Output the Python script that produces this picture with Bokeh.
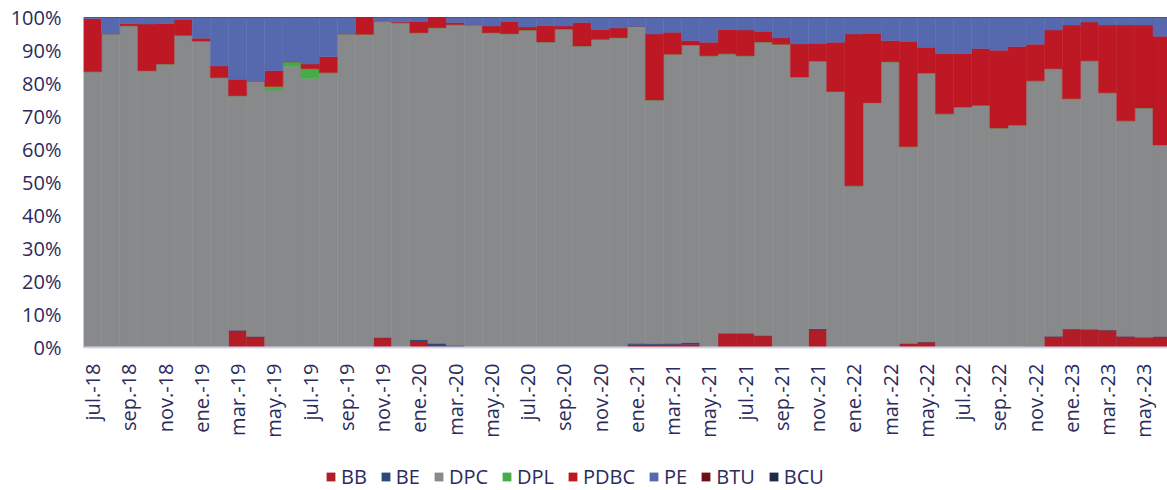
from bokeh.plotting import figure
from bokeh.models import ColumnDataSource, Range1d, FixedTicker, Legend, LegendItem
from bokeh.layouts import column
from bokeh.embed import file_html
from bokeh.resources import INLINE
import math

months = [
    "jul.-18", "ago.-18", "sep.-18", "oct.-18", "nov.-18", "dic.-18",
    "ene.-19", "feb.-19", "mar.-19", "abr.-19", "may.-19", "jun.-19",
    "jul.-19", "ago.-19", "sep.-19", "oct.-19", "nov.-19", "dic.-19",
    "ene.-20", "feb.-20", "mar.-20", "abr.-20", "may.-20", "jun.-20",
    "jul.-20", "ago.-20", "sep.-20", "oct.-20", "nov.-20", "dic.-20",
    "ene.-21", "feb.-21", "mar.-21", "abr.-21", "may.-21", "jun.-21",
    "jul.-21", "ago.-21", "sep.-21", "oct.-21", "nov.-21", "dic.-21",
    "ene.-22", "feb.-22", "mar.-22", "abr.-22", "may.-22", "jun.-22",
    "jul.-22", "ago.-22", "sep.-22", "oct.-22", "nov.-22", "dic.-22",
    "ene.-23", "feb.-23", "mar.-23", "abr.-23", "may.-23", "jun.-23",
]

series_names = ["BB", "BE", "DPC", "DPL", "PDBC", "PE", "BTU", "BCU"]

BB = [0, 0, 0, 0, 0, 0, 0, 0, 5.2, 3.3,
      0, 0, 0, 0, 0, 0, 3.0, 0, 2.0, 0.4,
      0.2, 0, 0, 0, 0, 0, 0, 0, 0, 0,
      0.8, 0.8, 0.9, 1.0, 0, 4.3, 4.3, 3.6, 0, 0,
      5.3, 0, 0, 0, 0, 1.2, 1.7, 0, 0, 0,
      0, 0, 0.3, 3.4, 5.6, 5.5, 5.3, 3.4, 3.1, 3.3]
BE = [0, 0, 0, 0, 0, 0, 0, 0, 0, 0,
      0, 0, 0, 0, 0, 0, 0, 0, 0.4, 0.9,
      0.5, 0, 0, 0, 0, 0, 0, 0, 0, 0,
      0.5, 0.4, 0.4, 0.5, 0.2, 0, 0, 0, 0, 0,
      0.4, 0, 0, 0, 0, 0, 0, 0, 0, 0,
      0, 0, 0, 0, 0, 0, 0, 0, 0, 0]
DPC = [83.6, 95.1, 97.5, 83.9, 85.9, 94.6, 92.9, 81.8, 71.1, 77.5,
       78.0, 85.2, 81.6, 83.3, 95.1, 94.9, 96.0, 98.4, 93.0, 95.6,
       97.1, 97.8, 95.4, 95.1, 96.2, 92.6, 96.5, 91.4, 93.4, 93.9,
       96.0, 73.8, 87.6, 90.2, 88.2, 84.7, 84.1, 89.0, 91.9, 82.0,
       81.1, 77.6, 49.0, 74.2, 86.6, 59.7, 81.5, 70.8, 72.9, 73.4,
       66.5, 67.4, 80.5, 81.1, 69.8, 81.4, 71.9, 65.3, 69.5, 58.1]
DPL = [0, 0, 0, 0, 0, 0, 0, 0, 0, 0,
       1.1, 1.4, 2.9, 0, 0, 0, 0, 0, 0, 0,
       0, 0, 0, 0, 0, 0, 0, 0, 0, 0,
       0, 0, 0, 0, 0, 0, 0, 0, 0, 0,
       0, 0, 0, 0, 0, 0, 0, 0, 0, 0,
       0, 0, 0, 0, 0, 0, 0, 0, 0, 0]
PDBC = [16.0, 0, 0.7, 14.1, 12.3, 4.9, 0.8, 3.5, 5.0, 0,
        4.8, 0, 1.4, 4.8, 0, 5.1, 0, 0.3, 3.5, 3.1,
        0.7, 0, 2.0, 3.7, 0.9, 5.0, 0.9, 7.1, 3.0, 2.9,
        0, 20.0, 6.6, 1.3, 4.1, 7.4, 7.8, 3.2, 1.9, 10.0,
        5.4, 14.9, 46.0, 21.0, 6.4, 31.9, 7.8, 18.3, 16.2, 17.2,
        23.6, 23.8, 11.1, 11.7, 22.3, 11.7, 20.5, 29.0, 25.1, 32.9]
PE = [0.4, 4.9, 1.8, 2.0, 1.8, 0.5, 6.3, 14.7, 18.7, 19.2,
      16.1, 13.4, 14.1, 11.9, 4.9, 0, 1.0, 1.3, 1.1, 0,
      1.5, 2.2, 2.6, 1.2, 2.9, 2.4, 2.6, 1.5, 3.6, 3.2,
      2.7, 5.0, 4.5, 7.0, 7.5, 3.6, 3.8, 4.2, 6.2, 8.0,
      7.8, 7.5, 5.0, 4.8, 7.0, 7.2, 9.0, 10.9, 10.9, 9.4,
      9.9, 8.8, 8.1, 3.8, 2.3, 1.4, 2.3, 2.3, 2.3, 5.7]
BTU = [0] * 60
BCU = [0] * 60

y_ticks = [0, 10, 20, 30, 40, 50, 60, 70, 80, 90, 100]
y_tick_labels = ["0%", "10%", "20%", "30%", "40%", "50%", "60%", "70%", "80%", "90%", "100%"]

colors = ["#b11c26", "#2a4a7c", "#88898b", "#46ac46", "#bd1823", "#5769ae", "#6e0f17", "#1d2b47"]
text_color = "#2b2b5c"
font = "Open Sans"
fsize = "20px"

x = list(range(len(months)))
source = ColumnDataSource(dict(x=x, BB=BB, BE=BE, DPC=DPC, DPL=DPL, PDBC=PDBC,
                               PE=PE, BTU=BTU, BCU=BCU))

p = figure(width=1167, height=440, output_backend="svg", toolbar_location=None,
           x_range=Range1d(-0.5, 59.3), y_range=Range1d(0, 100),
           min_border_left=83, min_border_right=0, min_border_top=17,
           min_border_bottom=93)

p.vbar_stack(series_names, x="x", width=1.0, source=source,
             fill_color=colors, line_color=colors, line_width=0.5)

p.xgrid.visible = False
p.ygrid.visible = False
p.outline_line_color = None
p.background_fill_color = "white"
p.border_fill_color = "white"

# x axis
p.xaxis.ticker = FixedTicker(ticks=x[::2])
p.xaxis.major_label_overrides = {i: months[i] for i in x[::2]}
p.xaxis.major_label_orientation = math.pi / 2
p.xaxis.major_label_text_align = "right"
p.xaxis.major_label_text_baseline = "middle"
p.xaxis.major_tick_line_color = None
p.xaxis.major_tick_out = 0
p.xaxis.major_tick_in = 0
p.xaxis.minor_tick_line_color = None
p.xaxis.axis_line_color = "#d3d3e6"
p.xaxis.axis_line_width = 2
p.xaxis.major_label_text_font = font
p.xaxis.major_label_text_font_size = fsize
p.xaxis.major_label_text_color = text_color
p.xaxis.major_label_standoff = 16

# y axis
p.yaxis.ticker = FixedTicker(ticks=y_ticks)
p.yaxis.major_label_overrides = {v: lab for v, lab in zip(y_ticks, y_tick_labels)}
p.yaxis.major_tick_line_color = None
p.yaxis.major_tick_out = 0
p.yaxis.major_tick_in = 0
p.yaxis.minor_tick_line_color = None
p.yaxis.axis_line_color = None
p.yaxis.major_label_text_font = font
p.yaxis.major_label_text_font_size = fsize
p.yaxis.major_label_text_color = text_color
p.yaxis.major_label_standoff = 22

# legend strip (own small figure so the legend can sit off-centre like the original)
lg = figure(width=1167, height=50, output_backend="svg", toolbar_location=None,
            x_range=Range1d(0, 1), y_range=Range1d(0, 1),
            x_axis_location=None, y_axis_location=None,
            min_border_left=0, min_border_right=0, min_border_top=0, min_border_bottom=0)
lg.xgrid.visible = False
lg.ygrid.visible = False
lg.outline_line_color = None
lg.border_fill_color = "white"

# zero-height bars: only used to give each legend entry its swatch
swatch = ColumnDataSource(dict(x=[0], top=[0]))
items = []
for name, color in zip(series_names, colors):
    r = lg.vbar(x="x", top="top", width=0.01, source=swatch,
                fill_color=color, line_color=None)
    items.append(LegendItem(label=name, renderers=[r]))

# the column layout aligns this strip's frame with the main frame (83px in)
legend = Legend(items=items, orientation="horizontal", location=(242, 0),
                glyph_width=11, glyph_height=11, label_standoff=5, spacing=13,
                label_text_font=font, label_text_font_size=fsize,
                label_text_color=text_color, border_line_color=None,
                background_fill_alpha=0, padding=0, margin=0)
lg.add_layout(legend, "center")

layout = column(p, lg, spacing=0)
open("out.html", "w").write(file_html(layout, INLINE))
